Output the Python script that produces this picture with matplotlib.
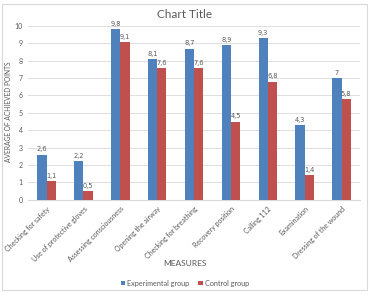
import matplotlib
matplotlib.use('Agg')
import matplotlib.pyplot as plt
import numpy as np
from matplotlib.patches import Rectangle

plt.rcParams['font.family'] = ['Lato', 'DejaVu Sans']

mesures = ['Checking for safety', 'Use of protective gloves', 'Assessing consciousness',
           'Opening the airway', 'Checking for breathing', 'Recovery position',
           'Calling 112', 'Examination', 'Dressing of the wound']
experimental = [2.6, 2.2, 9.8, 8.1, 8.7, 8.9, 9.3, 4.3, 7.0]
controle = [1.1, 0.5, 9.1, 7.6, 7.6, 4.5, 6.8, 1.4, 5.8]

bleu = '#4F81BD'
rouge = '#C0504D'
gris = '#595959'

def fmt(v):
    # format avec virgule, comme dans Excel
    if v == int(v):
        return str(int(v))
    return ('%.1f' % v).replace('.', ',')

fig = plt.figure(figsize=(3.7, 2.95), dpi=100)
fig.patches.append(Rectangle((0.006, 0.017), 0.986, 0.97, transform=fig.transFigure,
                             fill=False, edgecolor='#D9D9D9', linewidth=0.8))
ax = fig.add_axes([0.076, 0.323, 0.897, 0.589])

x = np.arange(len(mesures))
w = 0.25
b1 = ax.bar(x - w/2, experimental, w, color=bleu, label='Experimental group', zorder=3)
b2 = ax.bar(x + w/2, controle, w, color=rouge, label='Control group', zorder=3)

for i in range(len(mesures)):
    ax.text(x[i] - w/2, experimental[i] + 0.12, fmt(experimental[i]), ha='center', va='bottom',
            fontsize=4.8, color=gris, family='DejaVu Sans')
    ax.text(x[i] + w/2, controle[i] + 0.12, fmt(controle[i]), ha='center', va='bottom',
            fontsize=4.8, color=gris, family='DejaVu Sans')

ax.set_xlim(-0.5, len(mesures) - 0.5)
ax.set_ylim(0, 10)
ax.set_yticks(range(0, 11))
ax.yaxis.grid(True, color='#D9D9D9', linewidth=0.6, zorder=0)
for s in ['top', 'right', 'left']:
    ax.spines[s].set_visible(False)
ax.spines['bottom'].set_color('#D9D9D9')
ax.tick_params(axis='both', length=0, labelsize=5, colors=gris, pad=4)
ax.set_xticks(x)
ax.set_xticklabels(mesures, rotation=45, ha='right', rotation_mode='anchor', fontsize=5)

fig.text(0.024, 0.62, 'AVERAGE OF ACHIEVED POINTS', rotation=90, ha='center', va='center',
         fontsize=4.8, color=gris)
fig.text(0.5, 0.097, 'MEASURES', ha='center', fontsize=6, color=gris)
fig.text(0.5, 0.94, 'Chart Title', ha='center', fontsize=8.5, color=gris)

fig.legend(handles=[b1, b2], loc='center', bbox_to_anchor=(0.5, 0.04), ncol=2, frameon=False,
           fontsize=5.2, labelcolor=gris, handlelength=0.6, handleheight=0.6, columnspacing=1.2,
           handletextpad=0.3)

plt.savefig('out.png', dpi=100)
